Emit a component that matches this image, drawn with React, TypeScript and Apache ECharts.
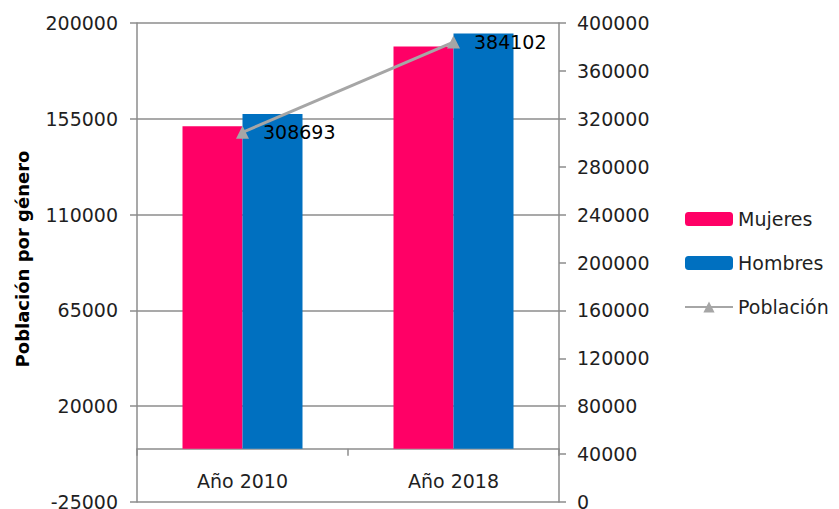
import React, { useEffect, useRef } from "react";
import * as echarts from "echarts";

const categories = ["Año 2010", "Año 2018"];
const mujeres = [151500, 189000];
const hombres = [157200, 195100];
const poblacion = [308693, 384102];
const leftTicks = { min: -25000, max: 200000, interval: 45000 };
const rightTicks = { min: 0, max: 400000, interval: 40000 };

const FONT = "DejaVu Sans";
const TXT = "#1f1f1f";
const AXIS = "#8c8c8c";

export default function App() {
  const ref = useRef<HTMLDivElement>(null);
  useEffect(() => {
    document.body.style.margin = "0";
    if (!ref.current) return;
    const chart = echarts.init(ref.current, undefined, { renderer: "svg" });
    chart.setOption({
      animation: false,
      backgroundColor: "#ffffff",
      textStyle: { fontFamily: FONT },
      grid: {
        left: 137,
        right: 280,
        top: 23,
        bottom: 7,
        containLabel: false,
        outerBoundsMode: "none",
      },
      legend: {
        orient: "vertical",
        left: 684,
        top: 209,
        padding: 0,
        itemWidth: 48,
        itemHeight: 14,
        itemGap: 24,
        textStyle: { fontFamily: FONT, fontSize: 19, color: TXT, lineHeight: 20 },
        data: [
          { name: "Mujeres" },
          { name: "Hombres" },
          { name: "Población" },
        ],
      },
      graphic: [
        {
          type: "text",
          x: 22,
          y: 259,
          rotation: Math.PI / 2,
          style: {
            text: "Población por género",
            font: `bold 18px "${FONT}"`,
            fill: "#000000",
            textAlign: "center",
            textVerticalAlign: "middle",
          },
        },
      ],
      xAxis: {
        type: "category",
        data: categories,
        axisLine: { show: true, onZero: true, lineStyle: { color: AXIS, width: 1.5 } },
        axisTick: { show: true, length: 7, lineStyle: { color: AXIS, width: 1.5 } },
        axisLabel: { fontFamily: FONT, fontSize: 19, color: TXT, margin: -31 },
        splitLine: { show: false },
      },
      yAxis: [
        {
          type: "value",
          min: leftTicks.min,
          max: leftTicks.max,
          interval: leftTicks.interval,
          axisLine: { show: true, lineStyle: { color: AXIS, width: 1.5 } },
          axisTick: { show: true, length: 7, lineStyle: { color: AXIS, width: 1.5 } },
          axisLabel: {
            fontFamily: FONT,
            fontSize: 19,
            color: TXT,
            margin: 19,
            formatter: (v: number) => String(v),
          },
          splitLine: { show: true, lineStyle: { color: AXIS, width: 1.5 } },
        },
        {
          type: "value",
          position: "right",
          min: rightTicks.min,
          max: rightTicks.max,
          interval: rightTicks.interval,
          axisLine: { show: true, lineStyle: { color: AXIS, width: 1.5 } },
          axisTick: { show: true, length: 7, lineStyle: { color: AXIS, width: 1.5 } },
          axisLabel: {
            fontFamily: FONT,
            fontSize: 19,
            color: TXT,
            margin: 18,
            formatter: (v: number) => String(v),
          },
          splitLine: { show: false },
        },
      ],
      series: [
        {
          name: "Mujeres",
          type: "bar",
          yAxisIndex: 0,
          data: mujeres,
          barWidth: 60,
          barGap: "0%",
          itemStyle: { color: "#FF0066" },
        },
        {
          name: "Hombres",
          type: "bar",
          yAxisIndex: 0,
          data: hombres,
          barWidth: 60,
          barGap: "0%",
          itemStyle: { color: "#0070C0" },
        },
        {
          name: "Población",
          type: "line",
          yAxisIndex: 1,
          data: poblacion,
          symbol: "triangle",
          symbolSize: 13,
          lineStyle: { color: "#A6A6A6", width: 3 },
          itemStyle: { color: "#A6A6A6" },
          label: {
            show: true,
            position: "right",
            distance: 14,
            fontFamily: FONT,
            fontSize: 19,
            color: "#000000",
          },
        },
      ],
    });
    return () => chart.dispose();
  }, []);
  return <div ref={ref} style={{ width: 839, height: 509 }} />;
}
